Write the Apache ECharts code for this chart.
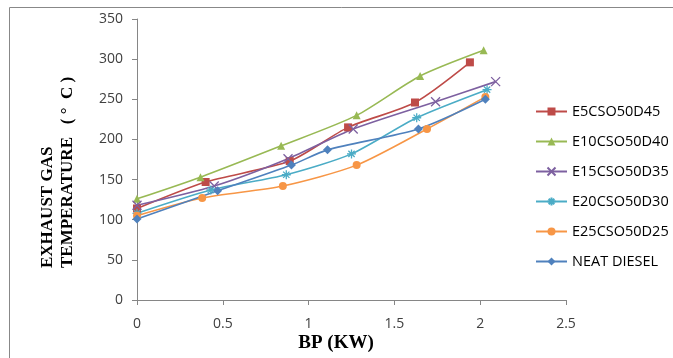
<!DOCTYPE html>
<html><head><meta charset="utf-8">
<script src="https://cdn.jsdelivr.net/npm/echarts@6/dist/echarts.min.js"></script>
<style>html,body{margin:0;padding:0;background:#fff}#c{width:673px;height:358px}</style>
</head><body><div id="c"></div>
<script>
const seriesNames = ['E5CSO50D45','E10CSO50D40','E15CSO50D35','E20CSO50D30','E25CSO50D25','NEAT DIESEL'];
const e5 = [[0,114],[0.40,147],[0.89,173],[1.23,215],[1.62,246],[1.94,296]];
const e10 = [[0,126],[0.37,153],[0.84,192],[1.28,230],[1.65,279],[2.02,311]];
const e15 = [[0,118],[0.45,142],[0.88,176],[1.26,213],[1.74,247],[2.09,272]];
const e20 = [[0,108],[0.43,137],[0.87,156],[1.25,182],[1.63,227],[2.04,262]];
const e25 = [[0,105],[0.38,127],[0.85,142],[1.28,168],[1.69,213],[2.03,253]];
const neat = [[0,101],[0.47,136],[0.90,168],[1.11,187],[1.64,213],[2.03,250]];
const xTitle = 'BP (KW)';
const yTitleLine1 = 'EXHAUST GAS';
const yTitleLine2 = 'TEMPERATURE   ( °  C )';

const datasets = [e5,e10,e15,e20,e25,neat];
const colors = ['#BE4B48','#98B954','#7D60A0','#4BACC6','#F79646','#4F81BD'];
const symbols = ['rect','triangle','path://M0,0L10,10M10,0L0,10','path://M5,0L5,10M0,5L10,5M1.5,1.5L8.5,8.5M8.5,1.5L1.5,8.5','circle','diamond'];
const sizes = [8,8,9,9,8,9];
const titleFont = {fontFamily:'Liberation Serif',fontWeight:'bold',fontSize:17,fill:'#000'};

const chart = echarts.init(document.getElementById('c'));
chart.setOption({
  animation:false,
  graphic:[
    {type:'rect',shape:{x:9.5,y:7.5,width:700,height:400},style:{fill:'none',stroke:'#888',lineWidth:1}},
    {type:'text',x:48,y:268,rotation:Math.PI/2,style:Object.assign({text:yTitleLine1,textAlign:'left',textVerticalAlign:'middle'},titleFont)},
    {type:'text',x:68,y:268,rotation:Math.PI/2,style:Object.assign({text:yTitleLine2,textAlign:'left',textVerticalAlign:'middle'},titleFont)},
    {type:'text',x:336,y:343,style:Object.assign({text:xTitle,textAlign:'center',textVerticalAlign:'middle'},titleFont,{fontSize:19})}
  ],
  grid:{left:137,top:19,width:429,height:281,containLabel:false},
  xAxis:{type:'value',min:0,max:2.5,interval:0.5,
    axisLine:{lineStyle:{color:'#868686'}},axisTick:{show:true,length:5,lineStyle:{color:'#868686'}},
    splitLine:{show:false},
    axisLabel:{color:'#404040',fontSize:14,fontFamily:'Open Sans',margin:17}},
  yAxis:{type:'value',min:0,max:350,interval:50,
    axisLine:{show:true,lineStyle:{color:'#868686'}},axisTick:{show:true,length:5,lineStyle:{color:'#868686'}},
    splitLine:{show:false},
    axisLabel:{color:'#404040',fontSize:14,fontFamily:'Open Sans',margin:14}},
  legend:{orient:'vertical',left:530,top:99,itemGap:15,itemWidth:31,itemHeight:10,
    textStyle:{color:'#000',fontSize:14.5,fontFamily:'Open Sans'},
    data:seriesNames},
  series:datasets.map((d,i)=>({
    name:seriesNames[i],type:'line',data:d,smooth:0.25,
    symbol:symbols[i],symbolSize:sizes[i],
    lineStyle:{color:colors[i],width:1.6},
    itemStyle:{color:colors[i],borderColor:colors[i],borderWidth:(i===2||i===3)?1.3:0},
  }))
});
</script></body></html>
